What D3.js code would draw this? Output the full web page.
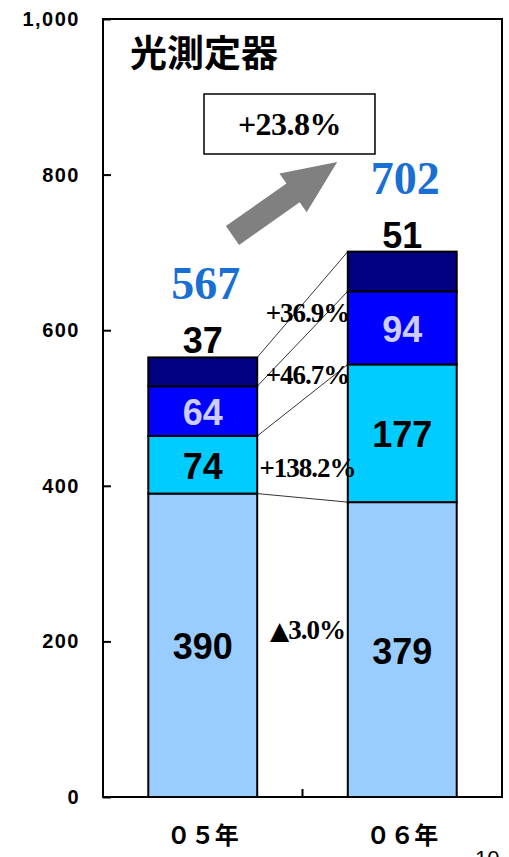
<!DOCTYPE html>
<html>
<head>
<meta charset="utf-8">
<script src="https://cdn.jsdelivr.net/npm/d3@7"></script>
<style>
  body { margin: 0; background: #fff; }
  svg { display: block; }
</style>
</head>
<body>
<div id="chart"></div>
<script>
var width = 509,
  height = 857;

// data
var years = ["05年", "06年"];
var yearLabels = ["０５年", "０６年"];
var segBase = [390, 379];
var segSecond = [74, 177];
var segThird = [64, 94];
var segTop = [37, 51];
var totals = [567, 702];
var growth = ["▲3.0%", "+138.2%", "+46.7%", "+36.9%"];
var totalGrowth = "+23.8%";
var yTicks = [0, 200, 400, 600, 800, 1000];

// styling
var segColors = ["#99ccff", "#00ccff", "#0000ff", "#000080"];
var labelColors = ["#000", "#000", "#ccccff", "#000"];
var growthDy = [-17, 19, 6, -9]; // hand nudges, as in the original slide

var margin = { top: 19, right: 7, bottom: 60, left: 103 };

var svg = d3.select("#chart").append("svg")
  .attr("width", width)
  .attr("height", height);

var x = d3.scaleBand()
  .domain(years)
  .range([margin.left, width - margin.right])
  .paddingInner(0.454)
  .paddingOuter(0.227);

var y = d3.scaleLinear()
  .domain([0, 1000])
  .range([height - margin.bottom, margin.top]);

// stack
var rows = years.map(function (yr, i) {
  return { year: yr, s0: segBase[i], s1: segSecond[i], s2: segThird[i], s3: segTop[i] };
});
var keys = ["s0", "s1", "s2", "s3"];
var stacked = d3.stack().keys(keys)(rows);

// frame
svg.append("rect")
  .attr("x", margin.left)
  .attr("y", margin.top)
  .attr("width", width - margin.right - margin.left)
  .attr("height", y(0) - margin.top)
  .attr("fill", "none")
  .attr("stroke", "#000")
  .attr("stroke-width", 2);

// y axis
var yAxis = svg.append("g")
  .attr("transform", "translate(" + margin.left + ",0)")
  .call(d3.axisLeft(y).tickValues(yTicks).tickFormat(d3.format(",")).tickSize(-8).tickPadding(23));
yAxis.select(".domain").remove();
yAxis.selectAll("line").attr("stroke", "#000").attr("stroke-width", 2);
yAxis.selectAll("text")
  .attr("font-family", "'Liberation Sans', Arial, sans-serif")
  .attr("font-weight", "bold")
  .attr("font-size", 20)
  .attr("letter-spacing", 1.5)
  .attr("fill", "#000");

// category boundary tick
var boundary = x(years[1]) - x.step() * x.paddingInner() / 2;
svg.append("line")
  .attr("x1", boundary).attr("x2", boundary)
  .attr("y1", y(0)).attr("y2", y(0) - 8)
  .attr("stroke", "#000").attr("stroke-width", 2);

// connectors
var cum = keys.map(function (k, j) {
  return stacked[j].map(function (d) { return d[1]; });
});
svg.append("g").selectAll("line")
  .data(cum)
  .enter().append("line")
  .attr("x1", x(years[0]) + x.bandwidth())
  .attr("x2", x(years[1]))
  .attr("y1", function (d) { return y(d[0]); })
  .attr("y2", function (d) { return y(d[1]); })
  .attr("stroke", "#000")
  .attr("stroke-width", 0.8);

// bars
var layer = svg.append("g").selectAll("g")
  .data(stacked)
  .enter().append("g")
  .attr("fill", function (d, i) { return segColors[i]; });

layer.selectAll("rect")
  .data(function (d) { return d; })
  .enter().append("rect")
  .attr("x", function (d) { return x(d.data.year); })
  .attr("width", x.bandwidth())
  .attr("y", function (d) { return y(d[1]); })
  .attr("height", function (d) { return y(d[0]) - y(d[1]); })
  .attr("stroke", "#000")
  .attr("stroke-width", 2);

// segment labels
stacked.forEach(function (series, j) {
  svg.append("g").selectAll("text")
    .data(series)
    .enter().append("text")
    .attr("x", function (d) { return x(d.data.year) + x.bandwidth() / 2; })
    .attr("y", function (d) {
      if (j === 3) return y(d[1]) - 4;
      return (y(d[0]) + y(d[1])) / 2 + 14;
    })
    .attr("text-anchor", "middle")
    .attr("font-family", "'Liberation Sans', Arial, sans-serif")
    .attr("font-weight", "bold")
    .attr("font-size", 36)
    .attr("fill", labelColors[j])
    .text(function (d) { return d[1] - d[0]; });
});

// growth labels between bars
var gapMid = (x(years[0]) + x.bandwidth() + x(years[1])) / 2;
var midY = function (j) {
  if (j < 0) return y(0);
  return (y(cum[j][0]) + y(cum[j][1])) / 2;
};
var gl = svg.append("g").selectAll("text")
  .data(growth)
  .enter().append("text")
  .attr("x", gapMid + 5)
  .attr("y", function (d, j) { return (midY(j - 1) + midY(j)) / 2 + growthDy[j] + 9; })
  .attr("text-anchor", "middle")
  .attr("font-family", "'Liberation Serif', 'Times New Roman', serif")
  .attr("font-weight", "bold")
  .attr("font-size", 27)
  .attr("letter-spacing", -1)
  .attr("fill", "#000");
gl.each(function (d) {
  var t = d3.select(this);
  if (d.charAt(0) === "▲") {
    t.append("tspan")
      .attr("font-family", "'DejaVu Sans', sans-serif")
      .attr("font-size", 25)
      .text("▲");
    t.append("tspan").text(d.slice(1));
  } else {
    t.text(d);
  }
});

// totals
svg.append("g").selectAll("text")
  .data(totals)
  .enter().append("text")
  .attr("x", function (d, i) { return x(years[i]) + x.bandwidth() / 2 + 3; })
  .attr("y", function (d, i) { return y(cum[3][i]) - 58; })
  .attr("text-anchor", "middle")
  .attr("font-family", "'Liberation Serif', 'Times New Roman', serif")
  .attr("font-weight", "bold")
  .attr("font-size", 46)
  .attr("fill", "#1a6fd2")
  .text(function (d) { return d; });

// title
svg.append("text")
  .attr("x", 130)
  .attr("y", 67)
  .attr("font-family", "'Noto Sans CJK JP', sans-serif")
  .attr("font-weight", "bold")
  .attr("font-size", 37)
  .attr("fill", "#000")
  .text("光測定器");

// growth box
svg.append("rect")
  .attr("x", 204).attr("y", 94)
  .attr("width", 171).attr("height", 60)
  .attr("fill", "#fff")
  .attr("stroke", "#000")
  .attr("stroke-width", 1.5);
svg.append("text")
  .attr("x", 289.5).attr("y", 135)
  .attr("text-anchor", "middle")
  .attr("font-family", "'Liberation Serif', 'Times New Roman', serif")
  .attr("font-weight", "bold")
  .attr("font-size", 32)
  .attr("letter-spacing", -0.5)
  .attr("fill", "#000")
  .text(totalGrowth);

// arrow
var arrowPts = [[0, -11.5], [74, -11.5], [74, -23.7], [128, 0], [74, 23.7], [74, 11.5], [0, 11.5]];
svg.append("polygon")
  .attr("points", arrowPts.map(function (p) { return p.join(","); }).join(" "))
  .attr("transform", "translate(232.5,235.5) rotate(-35.1)")
  .attr("fill", "#808080");

// x labels
svg.append("g").selectAll("text")
  .data(yearLabels)
  .enter().append("text")
  .attr("x", function (d, i) { return x(years[i]) + x.bandwidth() / 2; })
  .attr("y", y(0) + 47)
  .attr("text-anchor", "middle")
  .attr("font-family", "'Noto Sans CJK JP', sans-serif")
  .attr("font-weight", "bold")
  .attr("font-size", 24)
  .attr("fill", "#000")
  .text(function (d) { return d; });

// page number (cut by the bottom edge, as in the slide)
svg.append("text")
  .attr("x", 475).attr("y", 866)
  .attr("font-family", "'Liberation Sans', Arial, sans-serif")
  .attr("font-size", 22)
  .attr("fill", "#000")
  .text("10");
</script>
</body>
</html>
